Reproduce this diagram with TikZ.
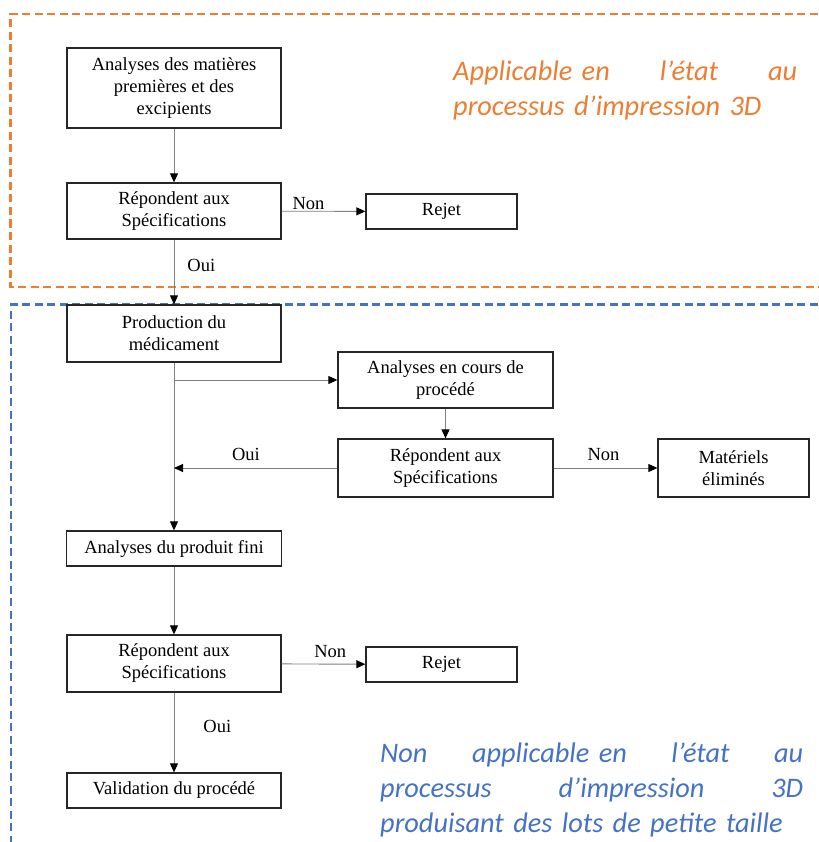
\documentclass[tikz,border=0pt]{standalone}
\usepackage{fontspec}
\setmainfont{Liberation Serif}
\newfontfamily\notefont{Carlito}
\usepackage{xcolor}
\usetikzlibrary{arrows.meta,positioning}
\definecolor{zoneorange}{HTML}{ED7D31}
\definecolor{zoneblue}{HTML}{4472C4}

\begin{document}
\begin{tikzpicture}[x=1pt,y=-1pt,
  bx/.style={draw=black!85,line width=1.3pt,align=center,inner sep=2pt,
    font=\fontsize{18.5}{22}\selectfont},
  ref/.style={draw=black!50,line width=0.9pt,-{Triangle[length=9pt,width=8pt,color=black]}},
  lab/.style={font=\fontsize{18.5}{22}\selectfont,inner sep=1pt},
  zone/.style={draw=#1,line width=2.2pt,dash pattern=on 8pt off 4.5pt},
  note/.style={text=#1,anchor=north west,inner sep=0pt,align=left,
    font=\notefont\itshape\fontsize{28.3}{35}\selectfont}]
\useasboundingbox (0,0) rectangle (818,842);
% zones
\draw[zone=zoneorange] (830,14) -| (10.5,287) -- (830,287);
\draw[zone=zoneblue] (830,304.5) -| (11,850);
% boxes
\node[bx,minimum width=214pt,minimum height=80pt] (raw) at (174,88) {Analyses des matières\\premières et des\\excipients};
\node[bx,minimum width=214pt,minimum height=56pt] (spec1) at (174,211) {Répondent aux\\Spécifications};
\node[bx,minimum width=151pt,minimum height=35pt] (rej1) at (441.5,211.5) {Rejet};
\node[bx,minimum width=214pt,minimum height=57pt] (prod) at (174,333.5) {Production du\\médicament};
\node[bx,minimum width=215pt,minimum height=56pt] (ipc) at (445.5,380) {Analyses en cours de\\procédé};
\node[bx,minimum width=215pt,minimum height=58pt] (spec2) at (445.5,468) {Répondent aux\\Spécifications};
\node[bx,minimum width=151pt,minimum height=58pt] (elim) at (733.5,468) {Matériels\\éliminés};
\node[bx,minimum width=215pt,minimum height=35pt] (fini) at (174,548.5) {Analyses du produit fini};
\node[bx,minimum width=214pt,minimum height=57pt] (spec3) at (174,663.5) {Répondent aux\\Spécifications};
\node[bx,minimum width=151pt,minimum height=35pt] (rej2) at (441.5,664.5) {Rejet};
\node[bx,minimum width=214pt,minimum height=35pt] (valid) at (174,790.5) {Validation du procédé};
% arrows
\draw[ref] (raw) -- (spec1);
\draw[ref] (spec1) -- node[lab,above,pos=0.32] {Non} (rej1);
\draw[ref] (spec1) -- node[lab,right,pos=0.4,xshift=12pt] {Oui} (prod);
\draw[ref] (prod) -- (fini);
\draw[ref] (prod.south |- ipc.west) -- (ipc.west);
\draw[ref] (ipc) -- (spec2);
\draw[ref] (spec2.west) -- node[lab,above,pos=0.56,yshift=6pt] {Oui} (prod.south |- spec2.west);
\draw[ref] (spec2) -- node[lab,above,pos=0.48,yshift=6pt] {Non} (elim);
\draw[ref] (fini) -- (spec3);
\draw[ref] (spec3) -- node[lab,above,pos=0.58,yshift=5pt] {Non} (rej2);
\draw[ref] (spec3) -- node[lab,right,pos=0.43,xshift=28pt] {Oui} (valid);
% notes
\node[note=zoneorange,text width=344pt] (appl) at (453,61) {Applicable en\hfill l’état\hfill au\\processus d’impression 3D};
\node[note=zoneblue,text width=423pt] (nonappl) at (380,743) {Non\hfill applicable en\hfill l’état\hfill au\\processus\hfill d’impression\hfill 3D\\produisant des lots de petite taille};
\end{tikzpicture}
\end{document}
